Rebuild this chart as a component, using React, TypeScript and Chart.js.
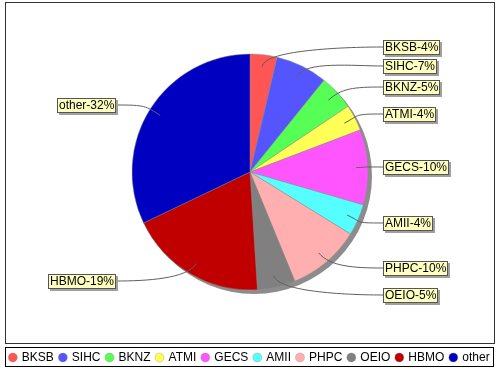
import React, { useEffect, useRef } from 'react';
import { Chart, ArcElement, PieController } from 'chart.js';

Chart.register(ArcElement, PieController);

const categories = ['BKSB', 'SIHC', 'BKNZ', 'ATMI', 'GECS', 'AMII', 'PHPC', 'OEIO', 'HBMO', 'other'];
const shares = [3.7, 7.1, 4.8, 3.6, 10.3, 4.3, 10.0, 5.2, 18.9, 32.1];
const colors = ['#FF5555', '#5555FF', '#55FF55', '#FFFF55', '#FF55FF', '#55FFFF', '#FFAFAF', '#808080', '#C00000', '#0000C0'];

const FONT = '12px "Liberation Sans", Arial, sans-serif';

const decorPlugin = {
  id: 'decor',
  beforeDraw(chart: any) {
    const ctx = chart.ctx;
    ctx.save();
    ctx.fillStyle = '#ffffff';
    ctx.fillRect(0, 0, chart.width, chart.height);
    ctx.strokeStyle = '#333333';
    ctx.lineWidth = 1;
    ctx.strokeRect(5.5, 2.5, 489, 341);
    ctx.restore();
  },
  beforeDatasetsDraw(chart: any) {
    const meta = chart.getDatasetMeta(0);
    const a0 = meta.data[0];
    if (!a0) return;
    const { x, y, outerRadius } = a0.getProps(['x', 'y', 'outerRadius'], true);
    const ctx = chart.ctx;
    ctx.save();
    ctx.fillStyle = '#8c8c8c';
    ctx.beginPath();
    ctx.arc(x + 4, y + 4, outerRadius, 0, Math.PI * 2);
    ctx.fill();
    ctx.restore();
  },
  afterDraw(chart: any) {
    const ctx = chart.ctx;
    const meta = chart.getDatasetMeta(0);
    const total = shares.reduce((s, v) => s + v, 0);
    const items: any[] = [];
    meta.data.forEach((arc: any, i: number) => {
      const p = arc.getProps(['x', 'y', 'startAngle', 'endAngle', 'outerRadius'], true);
      const a = (p.startAngle + p.endAngle) / 2;
      const r = p.outerRadius;
      items.push({
        i,
        a,
        cx: p.x,
        cy: p.y,
        r,
        right: Math.cos(a) >= 0,
        y: p.y + Math.sin(a) * (r + 8),
        text: categories[i] + '-' + Math.round((shares[i] / total) * 100) + '%',
      });
    });
    [true, false].forEach((side) => {
      const list = items.filter((it) => it.right === side).sort((p, q) => p.y - q.y);
      for (let k = 1; k < list.length; k++) {
        if (list[k].y < list[k - 1].y + 19) list[k].y = list[k - 1].y + 19;
      }
    });
    ctx.save();
    ctx.font = FONT;
    ctx.textBaseline = 'middle';
    items.forEach((it) => {
      const w = ctx.measureText(it.text).width;
      const bw = Math.round(w + 4);
      const bh = 15;
      const ly = Math.round(it.y);
      const bx = it.right ? Math.round(it.cx + 133) : Math.round(it.cx - 134 - bw);
      const by = ly - 7;
      const ex = it.right ? bx : bx + bw;
      const sx = it.cx + Math.cos(it.a) * it.r * 0.9;
      const sy = it.cy + Math.sin(it.a) * it.r * 0.9;
      const c1x = it.cx + Math.cos(it.a) * it.r * 1.05;
      const c1y = it.cy + Math.sin(it.a) * it.r * 1.05;
      const c2x = it.right ? ex - 30 : ex + 30;
      ctx.strokeStyle = '#606060';
      ctx.lineWidth = 1;
      ctx.beginPath();
      ctx.moveTo(sx, sy);
      ctx.bezierCurveTo(c1x, c1y, c2x, ly, ex, ly);
      ctx.stroke();
      ctx.fillStyle = '#a0a0a0';
      ctx.fillRect(bx + 2, by + 2, bw, bh);
      ctx.fillStyle = '#FFFFC0';
      ctx.fillRect(bx, by, bw, bh);
      ctx.strokeStyle = '#555555';
      ctx.strokeRect(bx + 0.5, by + 0.5, bw - 1, bh - 1);
      ctx.fillStyle = '#000000';
      ctx.textAlign = 'left';
      ctx.fillText(it.text, bx + 2, ly + 1);
    });

    const lx0 = 5, lx1 = 493, ly0 = 347, ly1 = 366;
    ctx.strokeStyle = '#000000';
    ctx.lineWidth = 1;
    ctx.strokeRect(lx0 + 0.5, ly0 + 0.5, lx1 - lx0, ly1 - ly0);
    const d = 9, g = 4.5;
    const widths = categories.map((c) => d + g + ctx.measureText(c).width + g);
    const totalW = widths.reduce((s, v) => s + v, 0) - g;
    let x = (lx0 + lx1) / 2 - totalW / 2;
    const cyL = (ly0 + ly1) / 2 + 1;
    categories.forEach((c, i) => {
      ctx.fillStyle = colors[i];
      ctx.beginPath();
      ctx.arc(x + d / 2, cyL, d / 2, 0, Math.PI * 2);
      ctx.fill();
      ctx.strokeStyle = 'rgba(120,120,120,0.6)';
      ctx.lineWidth = 0.5;
      ctx.stroke();
      ctx.fillStyle = '#000000';
      ctx.fillText(c, x + d + g, cyL + 0.5);
      x += widths[i];
    });
    ctx.restore();
  },
};

export default function App() {
  const ref = useRef<HTMLCanvasElement | null>(null);
  useEffect(() => {
    document.body.style.margin = '0';
    const canvas = ref.current;
    if (!canvas) return;
    const chart = new Chart(canvas, {
      type: 'pie',
      data: {
        labels: categories,
        datasets: [
          {
            data: shares,
            backgroundColor: colors,
            borderColor: 'rgba(140,140,140,0.9)',
            borderWidth: 0.5,
          },
        ],
      },
      options: {
        responsive: false,
        animation: false,
        devicePixelRatio: 1,
        radius: 118,
        layout: { padding: { top: 0, bottom: 26, left: 0, right: 0 } },
        plugins: {
          legend: { display: false },
          tooltip: { enabled: false },
        },
      } as any,
      plugins: [decorPlugin],
    });
    return () => chart.destroy();
  }, []);
  return (
    <div style={{ width: 500, height: 370 }}>
      <canvas ref={ref} width={500} height={370} style={{ display: 'block' }} />
    </div>
  );
}
